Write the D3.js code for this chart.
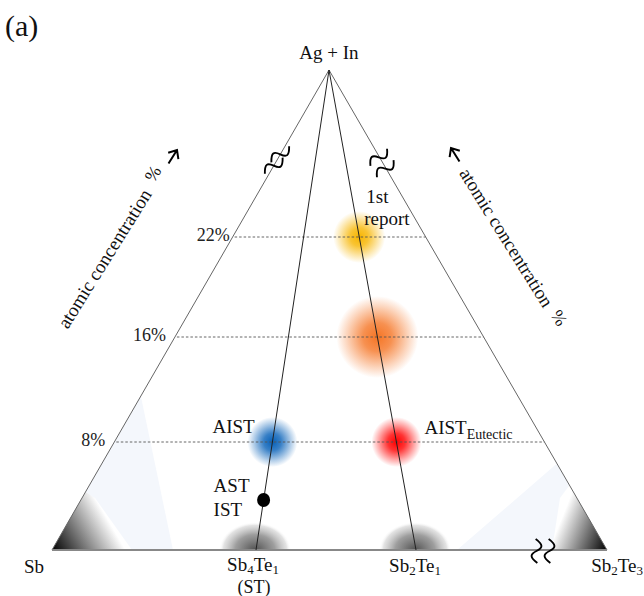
<!DOCTYPE html>
<html>
<head>
<meta charset="utf-8">
<script src="https://cdn.jsdelivr.net/npm/d3@7"></script>
<style>
  body { margin: 0; background: #fff; }
  svg text { font-family: 'Liberation Serif', 'Tinos', 'Times New Roman', 'DejaVu Serif', serif; }
</style>
</head>
<body>
<svg id="chart"></svg>
<script>
// concentration levels of Ag+In (atomic %) marked by dashed lines
const levels = [8, 16, 22]
const levelLabels = ["8%", "16%", "22%"]

// base compositions on the Sb - Sb2Te3 side (atomic % Te)
const baseNames = ["Sb", "Sb4Te1", "Sb2Te1", "Sb2Te3"]
const baseTe = [0, 20, 33.3, 60]

// spots: which tie line they sit on and their Ag+In content
const spotNames = ["1st report", "16% spot", "AIST", "AIST Eutectic"]
const spotLine = ["Sb2Te1", "Sb2Te1", "Sb4Te1", "Sb2Te1"]
const spotConc = [22, 16, 8, 8]

// the AST / IST composition
const dotLine = "Sb4Te1"
const dotConc = 3.7

const W = 644, H = 596
const apex = {x: 329, y: 70}
const baseY = 550
const FONT = "'Liberation Serif', 'Times New Roman', serif"

const spotStyle = {
  "1st report":   {color: "#f7b500", r: 26},
  "16% spot":     {color: "#f57525", r: 41},
  "AIST":         {color: "#0660b8", r: 25},
  "AIST Eutectic":{color: "#ff0000", r: 25}
}

const y = d3.scaleLinear().domain([0].concat(levels)).range([baseY, 442, 337, 237])
const xBase = d3.scaleLinear().domain(baseTe).range([52, 256, 416, 607])
const teOf = name => baseTe[baseNames.indexOf(name)]

// project (Te %, Ag+In %) onto the line from the apex to the base point
function pos(te, conc) {
  const yy = y(conc)
  const t = (yy - apex.y) / (baseY - apex.y)
  return [apex.x + (xBase(te) - apex.x) * t, yy]
}

const svg = d3.select("#chart").attr("width", W).attr("height", H)
  .attr("font-family", FONT)
const defs = svg.append("defs")

// radial blobs
spotNames.forEach((n, i) => {
  const g = defs.append("radialGradient").attr("id", "spot" + i)
  const c = spotStyle[n].color
  g.append("stop").attr("offset", "0%").attr("stop-color", c).attr("stop-opacity", 1)
  g.append("stop").attr("offset", "35%").attr("stop-color", c).attr("stop-opacity", 0.8)
  g.append("stop").attr("offset", "75%").attr("stop-color", c).attr("stop-opacity", 0.3)
  g.append("stop").attr("offset", "100%").attr("stop-color", c).attr("stop-opacity", 0)
})

const gray = defs.append("radialGradient").attr("id", "grayHalf")
gray.append("stop").attr("offset", "0%").attr("stop-color", "#505050").attr("stop-opacity", 1)
gray.append("stop").attr("offset", "55%").attr("stop-color", "#8c8c8c").attr("stop-opacity", 0.85)
gray.append("stop").attr("offset", "88%").attr("stop-color", "#d0d0d0").attr("stop-opacity", 0.6)
gray.append("stop").attr("offset", "100%").attr("stop-color", "#fff").attr("stop-opacity", 0)

defs.append("clipPath").attr("id", "aboveBase")
  .append("rect").attr("x", 0).attr("y", 0).attr("width", W).attr("height", baseY)

const leftC = pos(0, 0), rightC = pos(60, 0)

const lg = defs.append("linearGradient").attr("id", "cornerL")
  .attr("gradientUnits", "userSpaceOnUse")
  .attr("x1", leftC[0]).attr("y1", leftC[1]).attr("x2", leftC[0] + 55).attr("y2", leftC[1] - 32)
lg.append("stop").attr("offset", "0%").attr("stop-color", "#000")
lg.append("stop").attr("offset", "100%").attr("stop-color", "#fff")

const rg = defs.append("linearGradient").attr("id", "cornerR")
  .attr("gradientUnits", "userSpaceOnUse")
  .attr("x1", rightC[0]).attr("y1", rightC[1]).attr("x2", rightC[0] - 50).attr("y2", rightC[1] - 20)
rg.append("stop").attr("offset", "0%").attr("stop-color", "#000")
rg.append("stop").attr("offset", "100%").attr("stop-color", "#fff")

// faint bluish wedges near the corners
const edgeL = c => pos(0, c), edgeR = c => pos(60, c)
svg.append("path")
  .attr("d", d3.line()([leftC, edgeL(11.5), [173, baseY]]))
  .attr("fill", "#f4f7fc")
svg.append("path")
  .attr("d", d3.line()([rightC, edgeR(6.4), [457, baseY]]))
  .attr("fill", "#f4f7fc")

// dark corner shading
svg.append("path")
  .attr("d", d3.line()([leftC, edgeL(4.3), [95, 498], [132, baseY]]))
  .attr("fill", "url(#cornerL)")
svg.append("path")
  .attr("d", d3.line()([rightC, edgeR(4.8), [560, 498], [552, baseY]]))
  .attr("fill", "url(#cornerR)")

// gray half discs at the two binary compositions on the base
const halves = svg.append("g").attr("clip-path", "url(#aboveBase)")
;["Sb4Te1", "Sb2Te1"].forEach(n => {
  halves.append("ellipse")
    .attr("cx", xBase(teOf(n)) - 1).attr("cy", baseY)
    .attr("rx", 36).attr("ry", 28)
    .attr("fill", "url(#grayHalf)")
})

// colored blobs
spotNames.forEach((n, i) => {
  const [sx, sy] = pos(teOf(spotLine[i]), spotConc[i])
  svg.append("ellipse")
    .attr("cx", sx).attr("cy", sy)
    .attr("rx", spotStyle[n].r).attr("ry", spotStyle[n].r)
    .attr("fill", `url(#spot${i})`)
})

// dashed concentration lines
levels.forEach((c, i) => {
  const a = edgeL(c), b = edgeR(c)
  svg.append("line")
    .attr("x1", a[0] + 2).attr("y1", a[1]).attr("x2", b[0]).attr("y2", b[1])
    .attr("stroke", "#555").attr("stroke-width", 0.9).attr("stroke-dasharray", "2.5,2")
  svg.append("text")
    .attr("x", a[0] - (i === 2 ? 3 : 9)).attr("y", a[1] + 4)
    .attr("text-anchor", "end").attr("font-size", 18).attr("fill", "#222")
    .attr("font-family", FONT)
    .text(levelLabels[i])
})

// triangle sides
svg.append("path")
  .attr("d", d3.line()([leftC, [apex.x, apex.y], rightC]))
  .attr("fill", "none").attr("stroke", "#666").attr("stroke-width", 1)
svg.append("line")
  .attr("x1", leftC[0]).attr("y1", baseY).attr("x2", rightC[0]).attr("y2", baseY)
  .attr("stroke", "#888").attr("stroke-width", 1.8)

// tie lines from the apex
;["Sb4Te1", "Sb2Te1"].forEach(n => {
  svg.append("line")
    .attr("x1", apex.x).attr("y1", apex.y)
    .attr("x2", xBase(teOf(n))).attr("y2", baseY)
    .attr("stroke", "#222").attr("stroke-width", 1)
})

// AST / IST dot
const dot = pos(teOf(dotLine), dotConc)
svg.append("ellipse").attr("cx", dot[0]).attr("cy", dot[1])
  .attr("rx", 6.5).attr("ry", 7).attr("fill", "#000")

// break marks
const tilde = "M-8,2 C-5,-4 -3,-4 0,0 S5,4 8,-2"
function breakMark(cx, cy, dir, rot, gap, scale) {
  ;[-1, 1].forEach(s => {
    svg.append("path")
      .attr("d", tilde)
      .attr("transform", `translate(${cx + s * gap * dir[0]},${cy + s * gap * dir[1]}) rotate(${rot}) scale(${scale})`)
      .attr("fill", "none").attr("stroke", "#000").attr("stroke-width", 1.3)
  })
}
breakMark(277, 160, [0.5, -0.87], -28, 6.5, 1.45)
breakMark(382, 163, [0.5, 0.87], -32, 6.5, 1.45)
breakMark(543, 551, [1, 0], 100, 6.5, 1.45)

// labels
const txt = (x, yy, s, size, anchor) => svg.append("text")
  .attr("x", x).attr("y", yy).attr("font-size", size || 19).attr("font-family", FONT)
  .attr("text-anchor", anchor || "start").attr("fill", "#111").text(s)

txt(5, 36, "(a)", 30)
txt(apex.x, 59, "Ag + In", 19, "middle")

const spot = i => pos(teOf(spotLine[i]), spotConc[i])
txt(spot(0)[0] + 7, 203, "1st", 19)
txt(spot(0)[0] + 5, 225, "report", 19)
txt(spot(2)[0] - 60, spot(2)[1] - 9, "AIST", 19)
const eu = txt(spot(3)[0] + 28, spot(3)[1] - 8, "AIST", 19)
eu.append("tspan").attr("dy", 5).attr("font-size", 14).text("Eutectic")
txt(dot[0] - 50, dot[1] - 8, "AST", 19)
txt(dot[0] - 50, dot[1] + 16, "IST", 19)

function chem(x, yy, parts, anchor) {
  const t = svg.append("text").attr("x", x).attr("y", yy).attr("font-size", 19)
    .attr("font-family", FONT).attr("text-anchor", anchor).attr("fill", "#111")
  let sub = false
  parts.forEach(p => {
    const isNum = /\d/.test(p)
    const dy = isNum && !sub ? 3 : (!isNum && sub ? -3 : 0)
    t.append("tspan").attr("dy", dy).attr("font-size", isNum ? 13 : 19).text(p)
    sub = isNum
  })
  return t
}
const split = n => n.match(/[A-Z][a-z]?|\d+/g)
chem(xBase(teOf("Sb")) - 8, 573, split("Sb"), "end")
chem(xBase(teOf("Sb4Te1")) - 3, 571, split("Sb4Te1"), "middle")
txt(xBase(teOf("Sb4Te1")) - 2, 593, "(ST)", 18, "middle")
chem(xBase(teOf("Sb2Te1")) - 1, 572, split("Sb2Te1"), "middle")
chem(643, 572, split("Sb2Te3"), "end")

// rotated axis captions
const ang = 58
const rot = (x, yy, a, s, size) => svg.append("text")
  .attr("transform", `translate(${x},${yy}) rotate(${a})`)
  .attr("text-anchor", "middle").attr("font-size", size).attr("font-family", FONT)
  .attr("fill", "#111").text(s)
rot(110, 262, -ang, "atomic concentration", 19)
rot(158, 177, -ang, "%", 18)
rot(501, 241, ang, "atomic concentration", 19)
rot(554, 321, ang, "%", 18)

const arrow = "M-16,0 L0,0 M-7,-6 L0,0 L-7,6"
svg.append("path").attr("d", arrow)
  .attr("transform", `translate(177,150) rotate(${-ang})`)
  .attr("fill", "none").attr("stroke", "#000").attr("stroke-width", 2)
svg.append("path").attr("d", arrow)
  .attr("transform", `translate(451,148) rotate(${180 + ang})`)
  .attr("fill", "none").attr("stroke", "#000").attr("stroke-width", 2)
</script>
</body>
</html>
